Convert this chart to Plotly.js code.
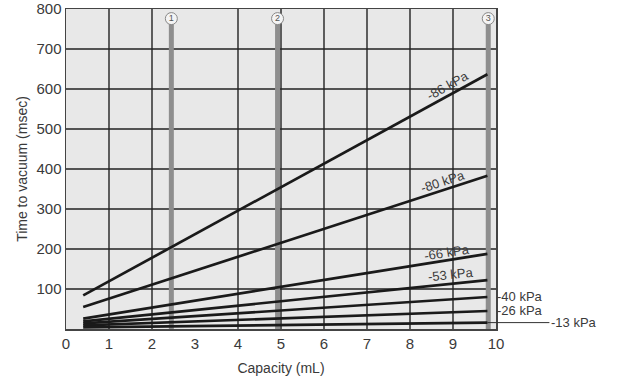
<!DOCTYPE html>
<html>
<head>
<meta charset="utf-8">
<script src="https://cdn.plot.ly/plotly-3.0.1.min.js"></script>
<style>html,body{margin:0;padding:0;background:#fff;}#chart{width:617px;height:381px;}</style>
</head>
<body>
<div id="chart"></div>
<script>
// Data
const capacity = [0.4, 9.8];
const seriesNames = ['-86 kPa', '-80 kPa', '-66 kPa', '-53 kPa', '-40 kPa', '-26 kPa', '-13 kPa'];
const kpa86 = [84, 637];
const kpa80 = [55, 383];
const kpa66 = [26, 188];
const kpa53 = [19, 122];
const kpa40 = [14, 80];
const kpa26 = [9, 45];
const kpa13 = [4, 16];
const markerCapacities = [2.45, 4.92, 9.82];
const markerLabels = ['1', '2', '3'];
const gridCapacities = [1, 2, 4, 5, 6, 7, 8, 9];
const gridTimes = [100, 200, 300, 400, 500, 600, 700];
const xTickVals = [0, 1, 2, 3, 4, 5, 6, 7, 8, 9, 10];
const yTickVals = [100, 200, 300, 400, 500, 600, 700, 800];

const allSeries = [kpa86, kpa80, kpa66, kpa53, kpa40, kpa26, kpa13];
const textColor = '#3a3a3a';
const font = 'Liberation Sans, Arial, sans-serif';

const traces = allSeries.map((s, i) => ({
  x: capacity, y: s, mode: 'lines', name: seriesNames[i],
  line: {color: '#1a1a1a', width: 2.7}, hoverinfo: 'skip'
}));

traces.push({
  x: markerCapacities, y: markerCapacities.map(() => 776),
  mode: 'markers+text', text: markerLabels, textposition: 'middle center',
  textfont: {size: 9, color: '#555', family: font},
  marker: {symbol: 'circle', size: 12, color: '#f4f4f4', line: {color: '#888', width: 1}},
  cliponaxis: false, hoverinfo: 'skip'
});

const shapes = [];
gridCapacities.forEach(v => shapes.push({type: 'line', xref: 'x', yref: 'y', x0: v, x1: v, y0: 0, y1: 800, layer: 'below', line: {color: '#222', width: 1.4}}));
gridTimes.forEach(v => shapes.push({type: 'line', xref: 'x', yref: 'y', x0: 0, x1: 10, y0: v, y1: v, layer: 'below', line: {color: '#222', width: 1.4}}));
markerCapacities.forEach(v => shapes.push({type: 'line', xref: 'x', yref: 'y', x0: v, x1: v, y0: 0, y1: 762, layer: 'below', line: {color: '#8e8e8e', width: 5}}));

function valAt(s, x) {
  return s[0] + (x - capacity[0]) / (capacity[1] - capacity[0]) * (s[1] - s[0]);
}
const lblFont = {size: 13, color: textColor, family: font};
const inside = [
  {s: 0, x: 8.88, ang: -29, ys: 10},
  {s: 1, x: 8.76, ang: -18, ys: 9},
  {s: 2, x: 8.86, ang: -9, ys: 8},
  {s: 3, x: 8.95, ang: -6, ys: 9}
];
const annotations = inside.map(o => ({
  x: o.x, y: valAt(allSeries[o.s], o.x), xref: 'x', yref: 'y',
  text: seriesNames[o.s], textangle: o.ang, showarrow: false,
  yshift: o.ys, font: lblFont
}));
annotations.push({x: 10, y: kpa40[1], xref: 'x', yref: 'y', text: seriesNames[4], showarrow: false, xanchor: 'left', xshift: -1, yshift: 1, font: lblFont});
annotations.push({x: 10, y: kpa26[1], xref: 'x', yref: 'y', text: seriesNames[5], showarrow: false, xanchor: 'left', xshift: -1, yshift: 1, font: lblFont});
annotations.push({x: capacity[1], y: kpa13[1], xref: 'x', yref: 'y', text: seriesNames[6], showarrow: true,
  ax: 62, ay: 0, xanchor: 'left', arrowhead: 0, arrowwidth: 1, arrowcolor: '#333', standoff: 0, font: lblFont});

const layout = {
  width: 617, height: 381,
  margin: {l: 66, r: 121, t: 9, b: 52},
  paper_bgcolor: '#fff', plot_bgcolor: '#e8e8e8',
  showlegend: false,
  font: {family: font, color: textColor, size: 14},
  xaxis: {
    range: [0, 10], tickvals: xTickVals, showgrid: false, zeroline: false,
    showline: true, mirror: true, linecolor: '#444', linewidth: 1.5,
    ticks: '', tickfont: {size: 15, color: textColor},
    title: {text: 'Capacity (mL)', font: {size: 14, color: textColor}, standoff: 12}
  },
  yaxis: {
    range: [0, 800], tickvals: yTickVals, showgrid: false, zeroline: false,
    showline: true, mirror: true, linecolor: '#444', linewidth: 1.5,
    ticks: '', tickfont: {size: 15, color: textColor}, ticklabeloverflow: 'allow',
    title: {text: 'Time to vacuum (msec)', font: {size: 14, color: textColor}, standoff: 5}
  },
  shapes: shapes,
  annotations: annotations
};

Plotly.newPlot('chart', traces, layout, {displayModeBar: false, staticPlot: true});
</script>
</body>
</html>
